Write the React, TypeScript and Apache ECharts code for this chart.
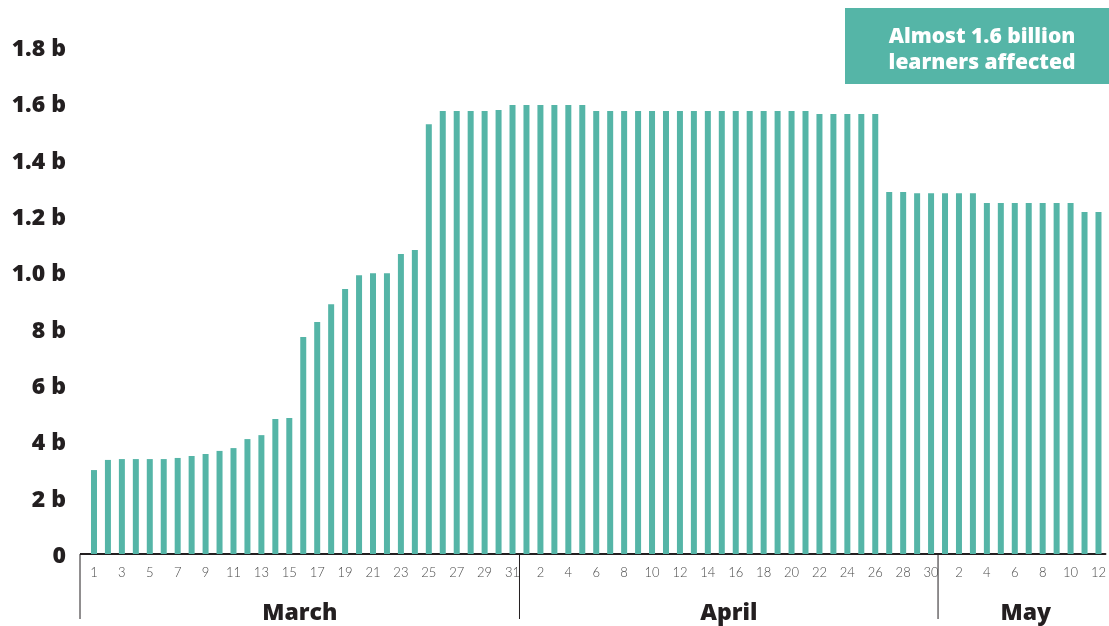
import React, { useEffect, useRef } from "react";
import * as echarts from "echarts";

// Learners affected (billions) per day
const months = ["March", "April", "May"];
const marchValues = [
  0.298, 0.334, 0.337, 0.337, 0.337, 0.337, 0.341, 0.348, 0.355, 0.366,
  0.376, 0.408, 0.422, 0.479, 0.483, 0.77, 0.824, 0.887, 0.941, 0.99,
  0.997, 0.997, 1.065, 1.079, 1.526, 1.573, 1.573, 1.573, 1.573, 1.576,
  1.594,
];
const aprilValues = [
  1.594, 1.594, 1.594, 1.594, 1.594, 1.573, 1.573, 1.573, 1.573, 1.573,
  1.573, 1.573, 1.573, 1.573, 1.573, 1.573, 1.573, 1.573, 1.573, 1.573,
  1.573, 1.562, 1.562, 1.562, 1.562, 1.562, 1.285, 1.285, 1.281, 1.281,
];
const mayValues = [
  1.281, 1.281, 1.281, 1.246, 1.246, 1.246, 1.246, 1.246, 1.246, 1.246,
  1.214, 1.214,
];
const yTickLabels = ["0", "2 b", "4 b", "6 b", "8 b", "1.0 b", "1.2 b", "1.4 b", "1.6 b", "1.8 b"];
const annotationLines = ["Almost 1.6 billion", "learners affected"];

const TEAL = "#55b5a7";
const DARK = "#231f20";
const FONT = "'Open Sans', 'Noto Sans', sans-serif";
const LIGHT_FONT = "Lato, 'Noto Sans', sans-serif";

export default function App() {
  const ref = useRef<HTMLDivElement>(null);
  useEffect(() => {
    if (!ref.current) return;
    const chart = echarts.init(ref.current, null, { renderer: "svg" });
    const monthData = [marchValues, aprilValues, mayValues];
    const categories: string[] = [];
    const values: number[] = [];
    const monthStarts: number[] = [];
    monthData.forEach((arr, m) => {
      monthStarts.push(categories.length);
      arr.forEach((v, i) => {
        categories.push(`${months[m]} ${i + 1}`);
        values.push(v);
      });
    });

    chart.setOption({
      animation: false,
      grid: { left: 87, right: 0, top: 47, bottom: 72, containLabel: false },
      xAxis: {
        type: "category",
        data: categories,
        axisLine: { show: true, lineStyle: { color: DARK, width: 2 } },
        axisTick: { show: false },
        axisLabel: {
          interval: 1,
          formatter: (v: string) => v.split(" ")[1],
          color: "#4a4a4a",
          fontSize: 13,
          fontFamily: LIGHT_FONT,
          fontWeight: 300,
          margin: 11,
        },
      },
      yAxis: {
        type: "value",
        min: 0,
        max: 1.8,
        interval: 0.2,
        splitLine: { show: false },
        axisLine: { show: false },
        axisTick: { show: false },
        axisLabel: {
          formatter: (v: number) => yTickLabels[Math.round(v / 0.2)] ?? "",
          color: DARK,
          fontSize: 23,
          fontWeight: 800,
          fontFamily: FONT,
          margin: 21,
        },
      },
      series: [
        {
          type: "bar",
          data: values,
          barWidth: 6,
          itemStyle: { color: TEAL },
        },
      ],
    });

    // month separators and labels, positioned from the axis scale
    const x0 = chart.convertToPixel({ xAxisIndex: 0 }, 0) as number;
    const x1 = chart.convertToPixel({ xAxisIndex: 0 }, 1) as number;
    const band = x1 - x0;
    const axisY = chart.convertToPixel({ yAxisIndex: 0 }, 0) as number;
    const lastX = (chart.convertToPixel({ xAxisIndex: 0 }, categories.length - 1) as number) + band / 2;
    const bounds = monthStarts.map((s) => (chart.convertToPixel({ xAxisIndex: 0 }, s) as number) - band / 2);
    bounds[0] = bounds[0] - 7;
    const edges = [...bounds, lastX];
    const graphics: any[] = [
      {
        type: "line",
        shape: { x1: bounds[0], y1: axisY, x2: bounds[0] + 8, y2: axisY },
        style: { stroke: DARK, lineWidth: 2 },
      },
    ];
    bounds.forEach((b) => {
      graphics.push({
        type: "line",
        shape: { x1: b, y1: axisY, x2: b, y2: axisY + 65 },
        style: { stroke: DARK, lineWidth: 1 },
      });
    });
    months.forEach((m, i) => {
      graphics.push({
        type: "text",
        x: (edges[i] + edges[i + 1]) / 2 + (i === 2 ? 4 : 0),
        y: axisY + 57,
        style: {
          text: m,
          fill: DARK,
          font: `800 23px ${FONT}`,
          textAlign: "center",
          textVerticalAlign: "middle",
        },
      });
    });
    graphics.push({
      type: "rect",
      shape: { x: 845, y: 8, width: 264, height: 76 },
      style: { fill: TEAL },
    });
    graphics.push({
      type: "text",
      x: 982,
      y: 48,
      style: {
        text: annotationLines.join("\n"),
        fill: "#ffffff",
        font: `800 21px ${FONT}`,
        lineHeight: 26,
        textAlign: "center",
        textVerticalAlign: "middle",
      },
    });
    chart.setOption({ graphic: graphics });

    return () => chart.dispose();
  }, []);

  return (
    <div
      ref={ref}
      style={{ position: "fixed", left: 0, top: 0, width: 1109, height: 626 }}
    />
  );
}
